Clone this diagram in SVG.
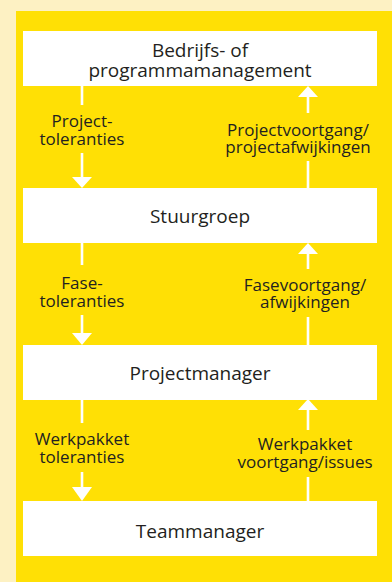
<svg xmlns="http://www.w3.org/2000/svg" width="392" height="582" viewBox="0 0 392 582">
<style>
.box{fill:#ffffff}
.bt{font-family:"Open Sans","Noto Sans",sans-serif;font-size:19px;fill:#231f20;text-anchor:middle}
.lt{font-family:"Open Sans","Noto Sans",sans-serif;font-size:17px;fill:#231f20;text-anchor:middle}
.ln{stroke:#ffffff;stroke-width:2.6;fill:none}
.ah{fill:#ffffff}
</style>
<rect x="0" y="0" width="392" height="582" fill="#fdf1c3"/>
<rect x="16" y="11" width="376" height="571" fill="#ffe005"/>
<g id="n1"><rect class="box" x="23" y="31" width="354" height="55"/><text class="bt" x="200" y="56.5">Bedrijfs- of</text><text class="bt" x="200" y="76.5">programmamanagement</text></g>
<g id="n2"><rect class="box" x="23" y="188" width="354" height="55"/><text class="bt" x="200" y="223">Stuurgroep</text></g>
<g id="n3"><rect class="box" x="23" y="345" width="354" height="55"/><text class="bt" x="200" y="380">Projectmanager</text></g>
<g id="n4"><rect class="box" x="23" y="501" width="354" height="55"/><text class="bt" x="200" y="538">Teammanager</text></g>
<g id="connectors">
<path class="ln" d="M82 86V105M82 153V178"/><polygon class="ah" points="72,177 92,177 82,188"/>
<text class="lt" x="82" y="127">Project-</text><text class="lt" x="82" y="145">toleranties</text>
<path class="ln" d="M308 96V113M308 161V188"/><polygon class="ah" points="298,97 318,97 308,86"/>
<text class="lt" x="298" y="135.5">Projectvoortgang/</text><text class="lt" x="298" y="153">projectafwijkingen</text>
<path class="ln" d="M82 243V265M82 315V334"/><polygon class="ah" points="72,333 92,333 82,345"/>
<text class="lt" x="82" y="289">Fase-</text><text class="lt" x="82" y="306.5">toleranties</text>
<path class="ln" d="M308 253V269M308 317V345"/><polygon class="ah" points="298,254 318,254 308,243"/>
<text class="lt" x="305" y="290.5">Fasevoortgang/</text><text class="lt" x="305" y="308">afwijkingen</text>
<path class="ln" d="M82 400V423M82 472V488"/><polygon class="ah" points="72,487 92,487 82,501"/>
<text class="lt" x="82" y="445">Werkpakket</text><text class="lt" x="82" y="463">toleranties</text>
<path class="ln" d="M308 409V430M308 477V501"/><polygon class="ah" points="298,410 318,410 308,399"/>
<text class="lt" x="305" y="450">Werkpakket</text><text class="lt" x="305" y="468">voortgang/issues</text>
</g>
</svg>
